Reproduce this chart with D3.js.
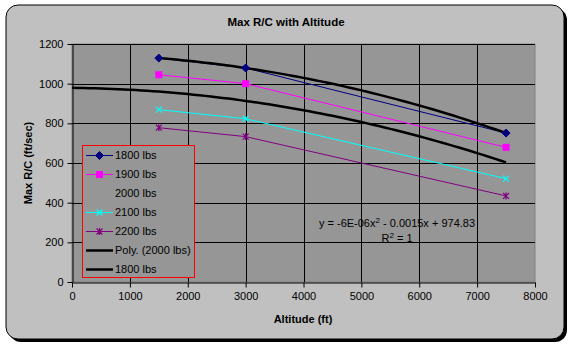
<!DOCTYPE html>
<html>
<head>
<meta charset="utf-8">
<script src="https://cdn.jsdelivr.net/npm/d3@7"></script>
<style>
  html, body { margin: 0; padding: 0; background: #fff; }
  svg { display: block; font-family: "Liberation Sans", Arial, sans-serif; }
</style>
</head>
<body>
<svg id="chart" width="576" height="350"></svg>
<script>
(function () {
    const svg = d3.select("#chart");

    // Data
    const altitudes = [1500, 3000, 7500];
    const rc1800 = [1129, 1079, 751];
    const rc1900 = [1045, 1000, 679];
    const rc2000 = [960, 913, 603];   // hidden series, only its trendline shows
    const rc2100 = [869, 823, 521];
    const rc2200 = [778, 733, 434];
    const xTicks = [0, 1000, 2000, 3000, 4000, 5000, 6000, 7000, 8000];
    const yTicks = [0, 200, 400, 600, 800, 1000, 1200];
    const legendLabels = ["1800 lbs", "1900 lbs", "2000 lbs", "2100 lbs", "2200 lbs", "Poly. (2000 lbs)", "1800 lbs"];
    const trendFrom = 0;

    const PLOT = { left: 72, right: 535, top: 44, bottom: 282 };
    const CHART_FILL = "#C0C0C0";
    const PLOT_FILL = "#969696";

    const x = d3.scaleLinear().domain([0, 8000]).range([PLOT.left, PLOT.right]);
    const y = d3.scaleLinear().domain([0, 1200]).range([PLOT.bottom, PLOT.top]);

    // Outer frame with shadow
    svg.append("rect")
        .attr("x", 9).attr("y", 8).attr("width", 558).attr("height", 334)
        .attr("rx", 12).attr("fill", "#000");
    svg.append("rect")
        .attr("x", 6).attr("y", 5).attr("width", 558).attr("height", 334)
        .attr("rx", 12).attr("fill", CHART_FILL)
        .attr("stroke", "#000").attr("stroke-width", 1);

    // Plot area
    svg.append("rect")
        .attr("x", PLOT.left).attr("y", PLOT.top)
        .attr("width", PLOT.right - PLOT.left).attr("height", PLOT.bottom - PLOT.top)
        .attr("fill", PLOT_FILL)
        .attr("stroke", "#808080").attr("stroke-width", 1);

    // Gridlines
    const grid = svg.append("g").attr("stroke", "#000").attr("stroke-width", 1);
    xTicks.slice(1, -1).forEach(t => {
        grid.append("line")
            .attr("x1", Math.round(x(t)) + 0.5).attr("x2", Math.round(x(t)) + 0.5)
            .attr("y1", PLOT.top).attr("y2", PLOT.bottom);
    });
    yTicks.slice(1).forEach(t => {
        grid.append("line")
            .attr("x1", PLOT.left).attr("x2", PLOT.right)
            .attr("y1", Math.round(y(t)) + 0.5).attr("y2", Math.round(y(t)) + 0.5);
    });

    // Axes
    const xAxis = d3.axisBottom(x).tickValues(xTicks).tickSize(5).tickSizeOuter(0).tickFormat(d3.format("d"));
    const yAxis = d3.axisLeft(y).tickValues(yTicks).tickSize(5).tickSizeOuter(0).tickFormat(d3.format("d"));
    const gx = svg.append("g").attr("transform", `translate(0,${PLOT.bottom + 0.5})`).call(xAxis);
    const gy = svg.append("g").attr("transform", `translate(${PLOT.left + 0.5},0)`).call(yAxis);
    [gx, gy].forEach(g => {
        g.selectAll("path, line").attr("stroke", "#000");
        g.selectAll("text").attr("font-size", "11px").attr("fill", "#000")
            .attr("font-family", "'Liberation Sans', Arial, sans-serif");
    });
    gx.selectAll("text").attr("dy", "0.71em").attr("y", 10);
    gy.selectAll("text").attr("x", -9);

    // Titles
    svg.append("text").attr("x", 286).attr("y", 26).attr("text-anchor", "middle")
        .attr("font-size", "11.5px").attr("font-weight", "bold").text("Max R/C with Altitude");
    svg.append("text").attr("x", 303).attr("y", 323).attr("text-anchor", "middle")
        .attr("font-size", "11px").attr("font-weight", "bold").text("Altitude (ft)");
    svg.append("text").attr("transform", "translate(32,163) rotate(-90)").attr("text-anchor", "middle")
        .attr("font-size", "11px").attr("font-weight", "bold").text("Max R/C (ft/sec)");

    // Quadratic through three points (trendline / smoothed line)
    function quadFit(xs, ys) {
        const [x0, x1, x2] = xs, [y0, y1, y2] = ys;
        const s01 = (y1 - y0) / (x1 - x0), s12 = (y2 - y1) / (x2 - x1);
        const a = (s12 - s01) / (x2 - x0);
        const b = s01 - a * (x0 + x1);
        const c = y0 - a * x0 * x0 - b * x0;
        return v => a * v * v + b * v + c;
    }
    const trend = quadFit(altitudes, rc2000);
    const trendXs = d3.range(trendFrom, altitudes[2] + 1, 100);
    const smooth1800 = quadFit(altitudes, rc1800);
    const smoothXs = d3.range(altitudes[0], altitudes[2] + 1, 100);

    const line = d3.line().x(d => x(d[0])).y(d => y(d[1]));
    const pairs = vals => altitudes.map((a, i) => [a, vals[i]]);

    const series = [
        { vals: rc1800, color: "#000080", marker: "diamond" },
        { vals: rc1900, color: "#FF00FF", marker: "square" },
        { vals: rc2100, color: "#00FFFF", marker: "x" },
        { vals: rc2200, color: "#800080", marker: "star" }
    ];

    const lines = svg.append("g").attr("fill", "none");
    series.forEach(s => {
        lines.append("path").attr("d", line(pairs(s.vals)))
            .attr("stroke", s.color).attr("stroke-width", 1);
    });
    lines.append("path")
        .attr("d", line(trendXs.map(v => [v, trend(v)])))
        .attr("stroke", "#000").attr("stroke-width", 2.5);
    lines.append("path")
        .attr("d", line(smoothXs.map(v => [v, smooth1800(v)])))
        .attr("stroke", "#000").attr("stroke-width", 2.5);

    function drawMarker(g, type, cx, cy, color) {
        if (type === "diamond") {
            g.append("path").attr("d", `M${cx},${cy - 4}L${cx + 4},${cy}L${cx},${cy + 4}L${cx - 4},${cy}Z`)
                .attr("fill", color).attr("stroke", color);
        } else if (type === "square") {
            g.append("rect").attr("x", cx - 3.5).attr("y", cy - 3.5).attr("width", 7).attr("height", 7)
                .attr("fill", color);
        } else if (type === "x") {
            g.append("path").attr("d", `M${cx - 3},${cy - 3}L${cx + 3},${cy + 3}M${cx - 3},${cy + 3}L${cx + 3},${cy - 3}`)
                .attr("stroke", color).attr("stroke-width", 1.2);
        } else if (type === "star") {
            g.append("path").attr("d", `M${cx - 3},${cy - 3}L${cx + 3},${cy + 3}M${cx - 3},${cy + 3}L${cx + 3},${cy - 3}M${cx},${cy - 3.5}L${cx},${cy + 3.5}`)
                .attr("stroke", color).attr("stroke-width", 1.2);
        }
    }
    const markers = svg.append("g");
    series.forEach(s => {
        pairs(s.vals).forEach(p => drawMarker(markers, s.marker, x(p[0]), y(p[1]), s.color));
    });

    // Trendline equation
    svg.append("text").attr("x", 397).attr("y", 227).attr("text-anchor", "middle")
        .attr("font-size", "11px")
        .html('y = -6E-06x<tspan dy="-4" font-size="8px">2</tspan><tspan dy="4"> - 0.0015x + 974.83</tspan>');
    svg.append("text").attr("x", 397).attr("y", 242).attr("text-anchor", "middle")
        .attr("font-size", "11px")
        .html('R<tspan dy="-4" font-size="8px">2</tspan><tspan dy="4"> = 1</tspan>');

    // Legend
    const lg = svg.append("g");
    lg.append("rect").attr("x", 82.5).attr("y", 145.5).attr("width", 112).attr("height", 132)
        .attr("fill", PLOT_FILL).attr("stroke", "#FF0000").attr("stroke-width", 1);
    const legendStyles = [
        { color: "#000080", marker: "diamond", w: 1 },
        { color: "#FF00FF", marker: "square", w: 1 },
        { color: null, marker: null, w: 0 },
        { color: "#00FFFF", marker: "x", w: 1 },
        { color: "#800080", marker: "star", w: 1 },
        { color: "#000", marker: null, w: 2.5 },
        { color: "#000", marker: null, w: 2.5 }
    ];
    legendLabels.forEach((lab, i) => {
        const ly = 155 + i * 19;
        const st = legendStyles[i];
        if (st.color) {
            lg.append("line").attr("x1", 86).attr("x2", 113).attr("y1", ly + 0.5).attr("y2", ly + 0.5)
                .attr("stroke", st.color).attr("stroke-width", st.w);
            if (st.marker) drawMarker(lg, st.marker, 99.5, ly + 0.5, st.color);
        }
        lg.append("text").attr("x", 115).attr("y", ly + 4).attr("font-size", "11px").text(lab);
    });
})();
</script>
</body>
</html>
